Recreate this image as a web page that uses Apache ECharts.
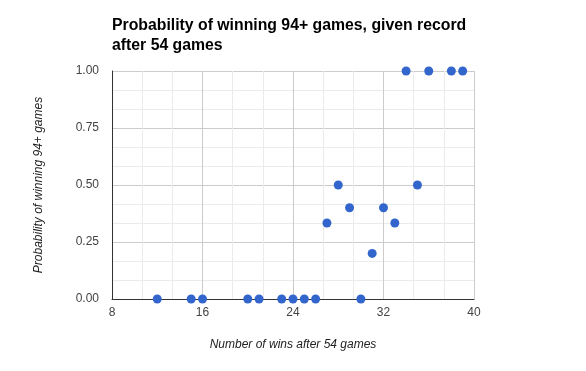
<!DOCTYPE html>
<html>
<head>
<meta charset="utf-8">
<script src="https://cdn.jsdelivr.net/npm/echarts@6/dist/echarts.min.js"></script>
<style>
html,body{margin:0;padding:0;background:#fff;}
#chart{width:586px;height:371px;}
</style>
</head>
<body>
<div id="chart"></div>
<script>
const titleText = "Probability of winning 94+ games, given record\nafter 54 games";
const xAxisTitle = "Number of wins after 54 games";
const yAxisTitle = "Probability of winning 94+ games";
const wins = [12, 15, 16, 20, 21, 23, 24, 25, 26, 27, 28, 29, 30, 31, 32, 33, 34, 35, 36, 38, 39];
const probability = [0, 0, 0, 0, 0, 0, 0, 0, 0, 0.3333, 0.5, 0.4, 0, 0.2, 0.4, 0.3333, 1, 0.5, 1, 1, 1];

const points = wins.map((w, i) => [w, probability[i]]);
const chart = echarts.init(document.getElementById('chart'), null, {renderer: 'canvas'});
chart.setOption({
  animation: false,
  backgroundColor: '#ffffff',
  title: {
    text: titleText,
    left: 112,
    top: 16,
    padding: 0,
    textStyle: {fontFamily: 'Liberation Sans, Arial', fontSize: 15.8, fontWeight: 'bold', color: '#000', lineHeight: 20}
  },
  grid: {left: 112, right: 112, top: 71, bottom: 72, containLabel: false},
  xAxis: {
    type: 'value', min: 8, max: 40, interval: 8,
    name: xAxisTitle, nameLocation: 'middle', nameGap: 40,
    nameTextStyle: {fontFamily: 'Liberation Sans, Arial', fontSize: 12, fontStyle: 'italic', color: '#222'},
    axisLine: {show: true, onZero: false, lineStyle: {color: '#333', width: 1}},
    axisTick: {show: false},
    axisLabel: {margin: 8, fontFamily: 'Liberation Sans, Arial', fontSize: 12, color: '#444'},
    splitLine: {show: true, lineStyle: {color: '#cccccc', width: 1}},
    minorTick: {show: false, splitNumber: 3},
    minorSplitLine: {show: true, lineStyle: {color: '#ebebeb', width: 1}}
  },
  yAxis: {
    type: 'value', min: 0, max: 1, interval: 0.25,
    name: yAxisTitle, nameLocation: 'middle', nameGap: 67,
    nameTextStyle: {fontFamily: 'Liberation Sans, Arial', fontSize: 12, fontStyle: 'italic', color: '#222'},
    axisLine: {show: true, onZero: false, lineStyle: {color: '#333', width: 1}},
    axisTick: {show: false},
    axisLabel: {margin: 13, fontFamily: 'Liberation Sans, Arial', fontSize: 12, color: '#444', formatter: v => v.toFixed(2)},
    splitLine: {show: true, lineStyle: {color: '#cccccc', width: 1}},
    minorTick: {show: false, splitNumber: 3},
    minorSplitLine: {show: true, lineStyle: {color: '#ebebeb', width: 1}}
  },
  series: [{
    type: 'scatter',
    data: points,
    symbol: 'circle',
    symbolSize: 9,
    itemStyle: {color: '#3366cc', opacity: 1}
  }]
});
</script>
</body>
</html>
